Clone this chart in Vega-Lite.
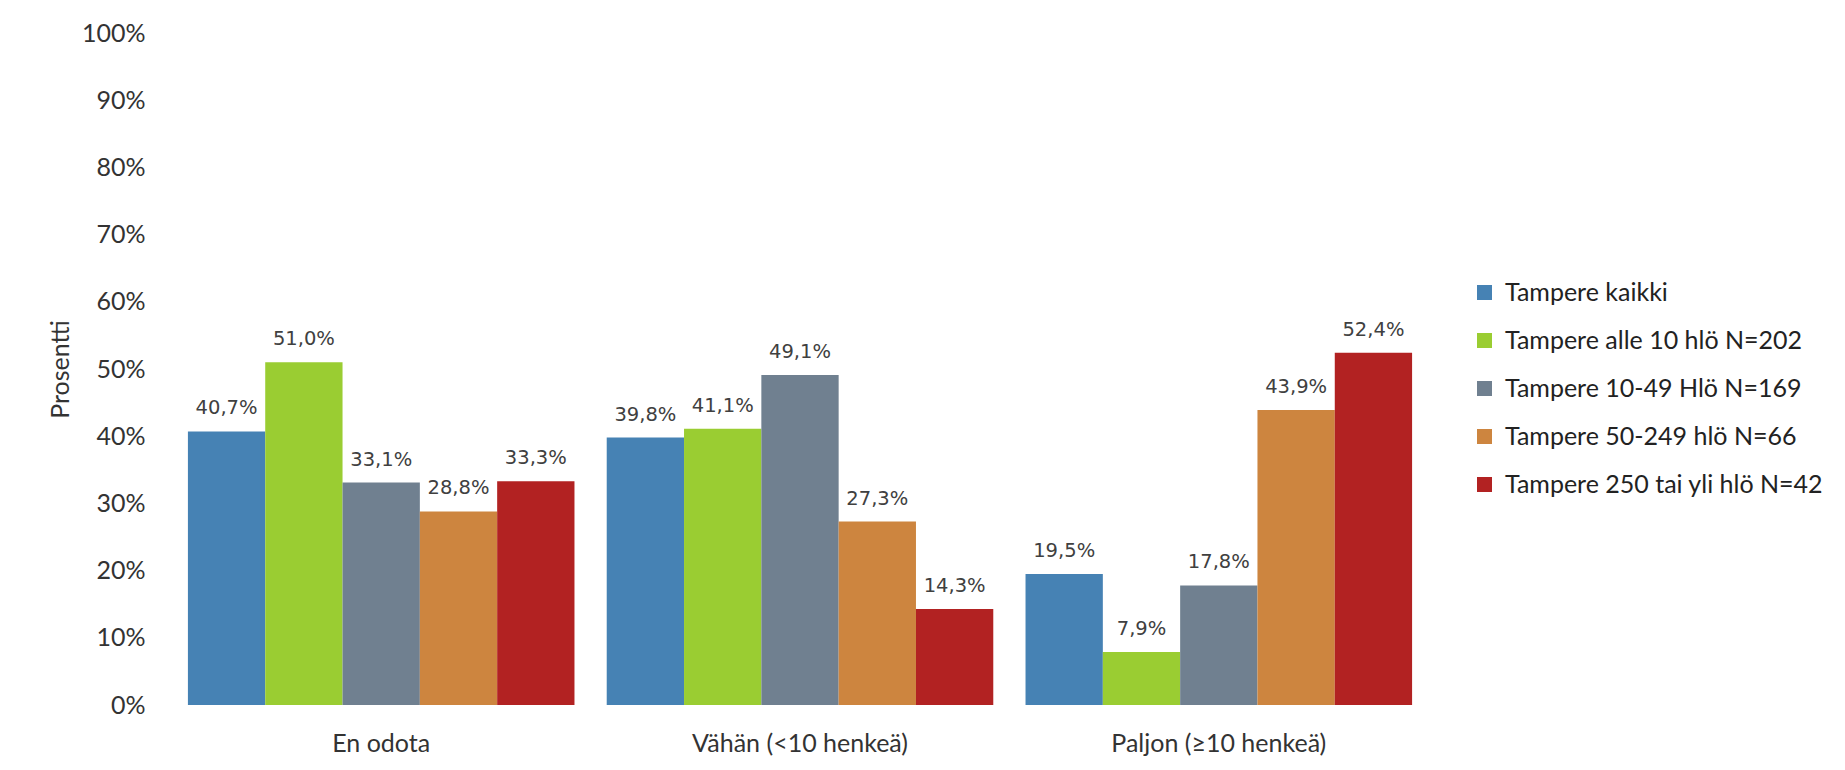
{
  "$schema": "https://vega.github.io/schema/vega-lite/v6.json",
  "autosize": {"type": "none"},
  "width": 1256,
  "height": 672,
  "padding": {"left": 172, "top": 33, "right": 417, "bottom": 65},
  "background": "white",
  "config": {
    "locale": {"number": {"decimal": ",", "thousands": "\u00a0", "grouping": [3], "currency": ["", "\u00a0€"], "percent": "%"}},
    "view": {"stroke": null},
    "font": "Lato"
  },
  "data": {
    "values": [
      {"kategoria": "En odota", "ryhma": "Tampere kaikki", "osuus": 0.407},
      {"kategoria": "En odota", "ryhma": "Tampere alle 10 hlö N=202", "osuus": 0.510},
      {"kategoria": "En odota", "ryhma": "Tampere 10-49 Hlö N=169", "osuus": 0.331},
      {"kategoria": "En odota", "ryhma": "Tampere 50-249 hlö N=66", "osuus": 0.288},
      {"kategoria": "En odota", "ryhma": "Tampere 250 tai yli hlö N=42", "osuus": 0.333},
      {"kategoria": "Vähän (<10 henkeä)", "ryhma": "Tampere kaikki", "osuus": 0.398},
      {"kategoria": "Vähän (<10 henkeä)", "ryhma": "Tampere alle 10 hlö N=202", "osuus": 0.411},
      {"kategoria": "Vähän (<10 henkeä)", "ryhma": "Tampere 10-49 Hlö N=169", "osuus": 0.491},
      {"kategoria": "Vähän (<10 henkeä)", "ryhma": "Tampere 50-249 hlö N=66", "osuus": 0.273},
      {"kategoria": "Vähän (<10 henkeä)", "ryhma": "Tampere 250 tai yli hlö N=42", "osuus": 0.143},
      {"kategoria": "Paljon (≥10 henkeä)", "ryhma": "Tampere kaikki", "osuus": 0.195},
      {"kategoria": "Paljon (≥10 henkeä)", "ryhma": "Tampere alle 10 hlö N=202", "osuus": 0.079},
      {"kategoria": "Paljon (≥10 henkeä)", "ryhma": "Tampere 10-49 Hlö N=169", "osuus": 0.178},
      {"kategoria": "Paljon (≥10 henkeä)", "ryhma": "Tampere 50-249 hlö N=66", "osuus": 0.439},
      {"kategoria": "Paljon (≥10 henkeä)", "ryhma": "Tampere 250 tai yli hlö N=42", "osuus": 0.524}
    ]
  },
  "encoding": {
    "x": {
      "field": "kategoria",
      "type": "nominal",
      "sort": ["En odota", "Vähän (<10 henkeä)", "Paljon (≥10 henkeä)"],
      "scale": {"paddingInner": 0.077, "paddingOuter": 0.038},
      "axis": {
        "title": null,
        "labelAngle": 0,
        "domain": false,
        "ticks": false,
        "tickSize": 0,
        "labelPadding": 26,
        "labelLimit": 500,
        "labelFont": "Lato",
        "labelFontSize": 25,
        "labelColor": "#333333"
      }
    },
    "xOffset": {
      "field": "ryhma",
      "type": "nominal",
      "sort": ["Tampere kaikki", "Tampere alle 10 hlö N=202", "Tampere 10-49 Hlö N=169", "Tampere 50-249 hlö N=66", "Tampere 250 tai yli hlö N=42"],
      "scale": {"paddingInner": 0, "paddingOuter": 0}
    },
    "y": {
      "field": "osuus",
      "type": "quantitative",
      "scale": {"domain": [0, 1], "nice": false},
      "axis": {
        "title": "Prosentti",
        "format": ".0%",
        "values": [0, 0.1, 0.2, 0.3, 0.4, 0.5, 0.6, 0.7, 0.8, 0.9, 1],
        "grid": false,
        "domain": false,
        "ticks": false,
        "tickSize": 0,
        "labelPadding": 27,
        "labelFont": "Lato",
        "labelFontSize": 25,
        "labelColor": "#333333",
        "titleFont": "Lato",
        "titleFontSize": 25,
        "titleFontWeight": "normal",
        "titleColor": "#333333",
        "titlePadding": 8
      }
    }
  },
  "layer": [
    {
      "mark": {"type": "bar"},
      "encoding": {
        "color": {
          "field": "ryhma",
          "type": "nominal",
          "sort": ["Tampere kaikki", "Tampere alle 10 hlö N=202", "Tampere 10-49 Hlö N=169", "Tampere 50-249 hlö N=66", "Tampere 250 tai yli hlö N=42"],
          "scale": {
            "domain": ["Tampere kaikki", "Tampere alle 10 hlö N=202", "Tampere 10-49 Hlö N=169", "Tampere 50-249 hlö N=66", "Tampere 250 tai yli hlö N=42"],
            "range": ["#4682B4", "#9ACD32", "#708090", "#CD853F", "#B22222"]
          },
          "legend": {
            "title": null,
            "orient": "none",
            "legendX": 1300,
            "legendY": 247,
            "symbolType": "square",
            "symbolSize": 225,
            "symbolStrokeWidth": 0,
            "labelFont": "Lato",
            "labelFontSize": 25,
            "labelColor": "#222222",
            "labelOffset": 8,
            "rowPadding": 22,
            "labelLimit": 400
          }
        }
      }
    },
    {
      "mark": {"type": "text", "baseline": "alphabetic", "dy": -17, "font": "DejaVu Sans", "fontSize": 19.5, "color": "#404040"},
      "encoding": {
        "text": {"field": "osuus", "type": "quantitative", "format": ".1%"}
      }
    }
  ]
}
